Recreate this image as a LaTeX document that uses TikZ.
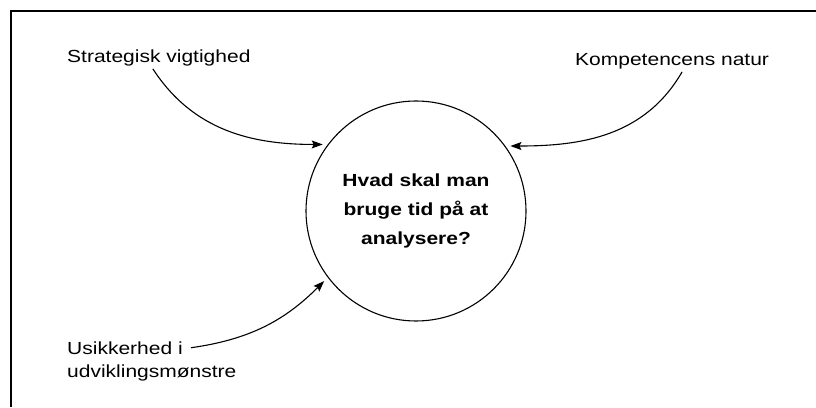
\documentclass[tikz,border=0pt]{standalone}
\usepackage{fontspec}
\setmainfont{Liberation Sans}[FakeStretch=1.2]
\usepackage{tikz}
\usetikzlibrary{arrows.meta}
\usetikzlibrary{positioning}

\begin{document}
\begin{tikzpicture}[x=1pt,y=1pt,
    factor/.style={inner sep=2pt,font=\fontsize{17.5}{23}\selectfont},
    question/.style={circle,draw,line width=1.1pt,minimum size=220pt,inner sep=0pt,
        align=center,font=\fontsize{17.5}{29}\selectfont\bfseries},
    pointer/.style={line width=1.1pt,-{Stealth[length=11pt,width=8pt,inset=2pt]},shorten >=5pt}]
        \useasboundingbox (0,0) rectangle (816,407);

        %%% Frame %%%
        \draw[line width=1.3pt] (11,0)--(11,396)--(816,396);

        %%% Question %%%
        \node[question] (hub) at (416,196) {Hvad skal man\\bruge tid på at\\analysere?};

        %%% Factors %%%
        \node[factor,anchor=base west] (strat) at (65,344) {Strategisk vigtighed};
        \node[factor,anchor=base west] (komp) at (573,341) {Kompetencens natur};
        \node[factor,anchor=base west] (usik) at (65,53) {Usikkerhed i};
        \node[factor,anchor=base west] (udv) at ([yshift=-23pt]usik.base west) {udviklingsmønstre};

        %%% Arrows %%%
        \draw[pointer] ([xshift=-6pt]strat.south) to[out=-57,in=180] (hub.143);
        \draw[pointer] ([xshift=10pt]komp.south) to[out=-120,in=0] (hub.36);
        \draw[pointer] ([xshift=6pt]usik.east) to[out=8,in=225] (hub.217);
    \end{tikzpicture}
\end{document}
